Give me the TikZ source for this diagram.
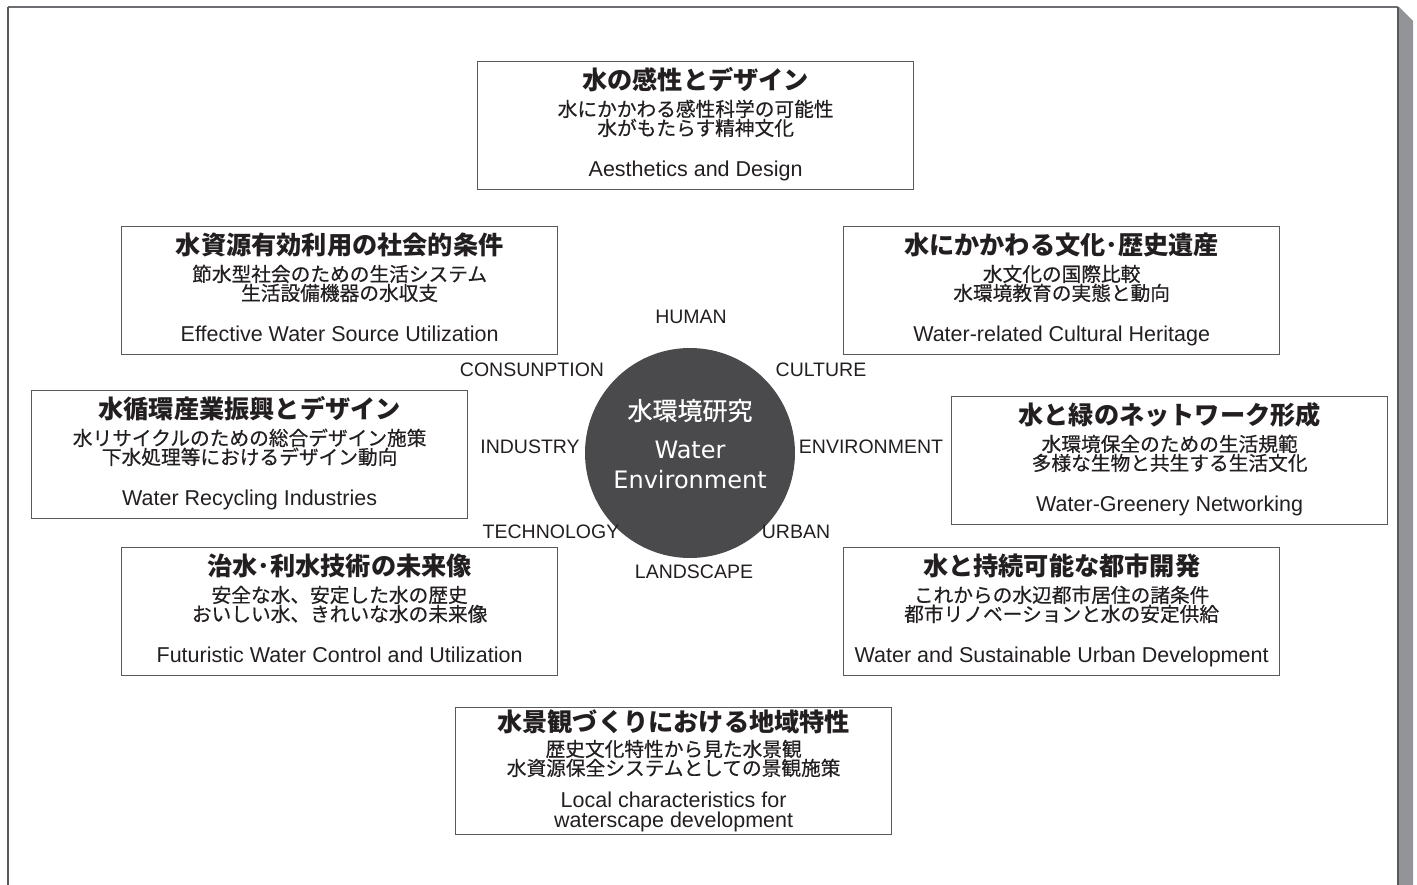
\documentclass[tikz,border=0pt]{standalone}
\usepackage{fontspec}
\setmainfont{Liberation Sans}
\newfontfamily\jp{Noto Sans CJK JP}
\newfontfamily\jpm{Noto Sans CJK JP}[FakeBold=0.5]
\newfontfamily\djv{DejaVu Sans}
\usetikzlibrary{calc}
\definecolor{txt}{HTML}{231F20}
\definecolor{boxc}{HTML}{58595B}
\definecolor{framec}{HTML}{6D6E71}
\definecolor{shadowc}{HTML}{929497}
\definecolor{circc}{HTML}{4A4A4C}
\tikzset{
  topicbox/.style={draw=boxc, line width=1.3pt, minimum width=436pt, minimum height=128pt, inner sep=0pt, anchor=north west},
  ttl/.style={anchor=base, inner sep=0pt, text=txt, font=\jp\bfseries\fontsize{25.2}{28}\selectfont},
  sub/.style={anchor=base, inner sep=0pt, text=txt, font=\jpm\fontsize{19.7}{22}\selectfont},
  eng/.style={anchor=base, inner sep=0pt, text=txt, font=\fontsize{21.5}{24}\selectfont},
  lbl/.style={anchor=base, inner sep=0pt, text=txt, font=\fontsize{19.5}{22}\selectfont},
}
\newcommand\topic[7]{%
  \node[topicbox] (#1) at (#2,#3) {};
  \node[ttl] (#1-t) at ($(#1.north)+(0,28.3)$) {#4};
  \node[sub] (#1-a) at ($(#1.north)+(0,55.4)$) {#5};
  \node[sub] (#1-b) at ($(#1.north)+(0,74.4)$) {#6};
  \node[eng] (#1-e) at ($(#1.north)+(0,115.7)$) {#7};
}
\begin{document}
\begin{tikzpicture}[x=1pt,y=-1pt]
\useasboundingbox (0,0) rectangle (1417,885);
% frame
\fill[shadowc] (1399,7) -- (1413,21) -- (1413,885) -- (1399,885) -- cycle;
\draw[framec, line width=1.5pt] (8,7) -- (1398,7);
\draw[boxc, line width=2pt] (8,7) -- (8,885);
\draw[boxc, line width=2pt] (1398,7) -- (1398,885);
% topics
\topic{aes}{477}{61}{水の感性とデザイン}{水にかかわる感性科学の可能性}{水がもたらす精神文化}{Aesthetics and Design}
\topic{eff}{121}{226}{水資源有効利用の社会的条件}{節水型社会のための生活システム}{生活設備機器の水収支}{Effective Water Source Utilization}
\topic{cul}{843}{226}{水にかかわる文化･歴史遺産}{水文化の国際比較}{水環境教育の実態と動向}{Water-related Cultural Heritage}
\topic{rec}{31}{390}{水循環産業振興とデザイン}{水リサイクルのための総合デザイン施策}{下水処理等におけるデザイン動向}{Water Recycling Industries}
\topic{grn}{951}{396}{水と緑のネットワーク形成}{水環境保全のための生活規範}{多様な生物と共生する生活文化}{Water-Greenery Networking}
\topic{fut}{121}{547}{治水･利水技術の未来像}{安全な水、安定した水の歴史}{おいしい水、きれいな水の未来像}{Futuristic Water Control and Utilization}
\topic{urb}{843}{547}{水と持続可能な都市開発}{これからの水辺都市居住の諸条件}{都市リノベーションと水の安定供給}{Water and Sustainable Urban Development}
% bottom box
\node[topicbox, minimum height=127pt] (loc) at (455,707) {};
\node[ttl] (loc-t) at ($(loc.north)+(0,24.3)$) {水景観づくりにおける地域特性};
\node[sub] (loc-a) at ($(loc.north)+(0,49.4)$) {歴史文化特性から見た水景観};
\node[sub] (loc-b) at ($(loc.north)+(0,68.4)$) {水資源保全システムとしての景観施策};
\node[eng] (loc-e1) at ($(loc.north)+(0,100.7)$) {Local characteristics for};
\node[eng] (loc-e2) at ($(loc.north)+(0,120.7)$) {waterscape development};
% centre
\node[circle, fill=circc, minimum size=210pt, inner sep=0pt] (c) at (690,453) {};
\node[anchor=base, inner sep=0pt, text=white, font=\jpm\fontsize{25}{28}\selectfont] (c-jp) at (690,420) {水環境研究};
\node[anchor=base, inner sep=0pt, text=white, font=\djv\fontsize{24}{28}\selectfont] (c-w) at (690,458) {Water};
\node[anchor=base, inner sep=0pt, text=white, font=\djv\fontsize{24}{28}\selectfont] (c-e) at (690,488) {Environment};
% labels
\node[lbl] (human) at (691,324) {HUMAN};
\node[lbl] (culture) at (821,377) {CULTURE};
\node[lbl] (env) at (871,453) {ENVIRONMENT};
\node[lbl] (urban) at (796,538) {URBAN};
\node[lbl] (land) at (694,578) {LANDSCAPE};
\node[lbl] (tech) at (551,538) {TECHNOLOGY};
\node[lbl] (ind) at (530,453) {INDUSTRY};
\node[lbl] (cons) at (532,377) {CONSUNPTION};
\end{tikzpicture}
\end{document}
